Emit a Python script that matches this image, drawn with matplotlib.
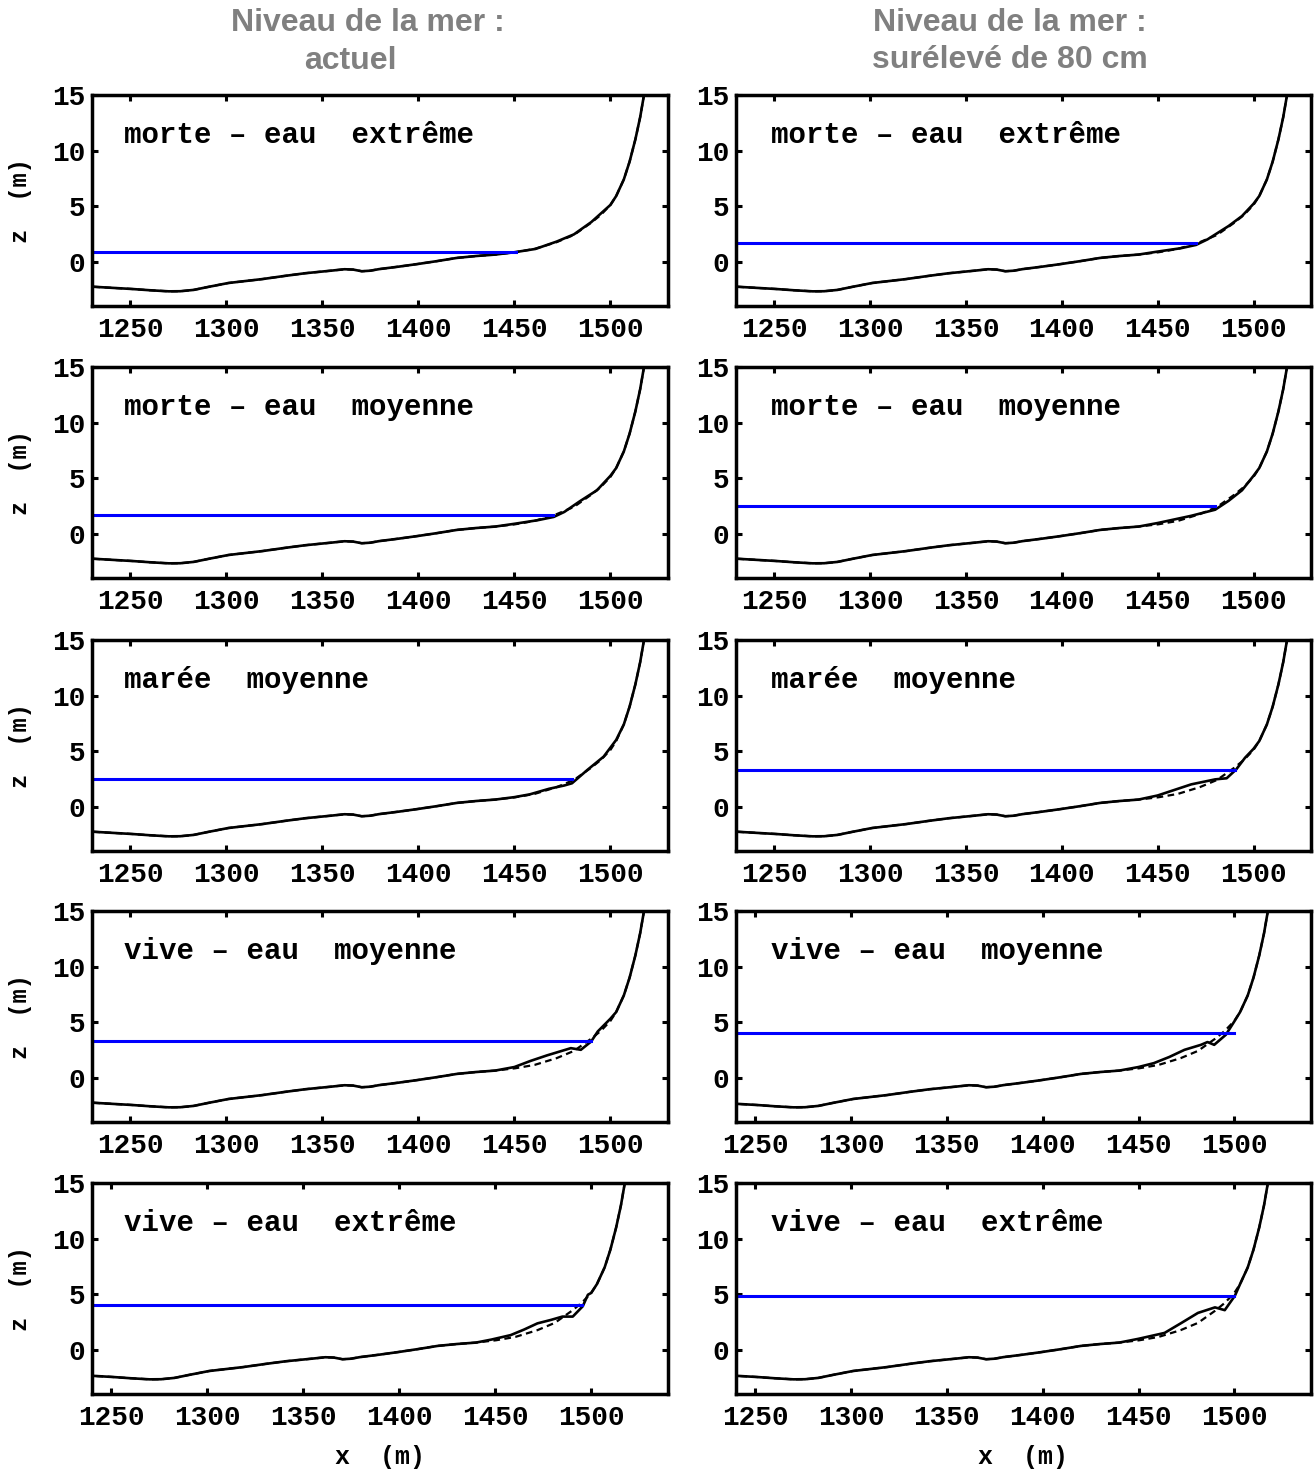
import numpy as np
import matplotlib
matplotlib.use("Agg")
import matplotlib.pyplot as plt

plt.rcParams.update({
    "font.family": ["Liberation Mono", "DejaVu Sans Mono"],
    "font.weight": "bold",
    "axes.linewidth": 2.5,
    "xtick.direction": "in", "ytick.direction": "in",
    "xtick.top": True, "ytick.right": True,
    "xtick.major.size": 4.5, "ytick.major.size": 4.5,
    "xtick.major.width": 2.2, "ytick.major.width": 2.2,
    "xtick.labelsize": 20, "ytick.labelsize": 20,
    "xtick.major.pad": 8, "ytick.major.pad": 5,
})

# initial beach profile (dashed), x (m) / z (m)
BASE_X = [1225, 1230, 1240, 1251, 1260, 1270, 1276, 1283, 1290, 1301, 1310,
          1319, 1330, 1341, 1348, 1355, 1361.5, 1366, 1370.5, 1375, 1379.5,
          1390, 1400, 1410, 1420, 1430, 1440, 1450.5, 1460.5, 1472, 1481, 1490,
          1495, 1500, 1503, 1507, 1510, 1513, 1515.5, 1517.5]
BASE_Z = [-2.2, -2.26, -2.36, -2.47, -2.58, -2.68, -2.67, -2.55, -2.3, -1.93,
          -1.75, -1.57, -1.3, -1.05, -0.93, -0.81, -0.69, -0.72, -0.87, -0.82,
          -0.68, -0.45, -0.21, 0.05, 0.33, 0.5, 0.63, 0.84, 1.14, 1.75, 2.4, 3.5,
          4.2, 5.1, 5.9, 7.4, 9.0, 11.0, 13.0, 15.0]

LABELS = ["morte – eau  extrême", "morte – eau  moyenne", "marée  moyenne",
          "vive – eau  moyenne", "vive – eau  extrême"]
TIDE = [0.9, 1.65, 2.45, 3.25, 4.05]
RISE = 0.8

# final profile near the shore (solid), one list per row
SHORE_X_LEFT = [
    [1450, 1461, 1472, 1481, 1490, 1500],
    [1450, 1462, 1470.5, 1476, 1484, 1493, 1500],
    [1450, 1458, 1468, 1476, 1480, 1488, 1496.5, 1503],
    [1450, 1458.4, 1467, 1479.4, 1484.6, 1490, 1493.4, 1500],
    [1448, 1458, 1465, 1472, 1479, 1485, 1490.4, 1495.6, 1498.3],
]
SHORE_Z_LEFT = [
    [0.84, 1.14, 1.8, 2.45, 3.55, 5.1],
    [0.88, 1.2, 1.5, 1.95, 2.9, 3.9, 5.2],
    [0.85, 1.1, 1.6, 1.9, 2.1, 3.3, 4.5, 6.0],
    [0.95, 1.5, 2.0, 2.65, 2.5, 3.25, 4.15, 5.3],
    [0.9, 1.3, 1.8, 2.36, 2.67, 2.97, 2.97, 3.9, 4.94],
]
SHORE_X_RIGHT = [
    [1450, 1462, 1470, 1476, 1487, 1494, 1500],
    [1450, 1467.5, 1480, 1487, 1494, 1500],
    [1450, 1467.5, 1480, 1486, 1491, 1495.6, 1500],
    [1450, 1458, 1466, 1474, 1482.6, 1486, 1489.5, 1495.6, 1500],
    [1450, 1463.6, 1472.4, 1481, 1489.9, 1495, 1500.3],
]
SHORE_Z_RIGHT = [
    [0.9, 1.2, 1.5, 2.0, 3.2, 4.1, 5.2],
    [0.95, 1.6, 2.15, 2.95, 3.9, 5.2],
    [1.0, 2.0, 2.45, 2.55, 3.35, 4.4, 5.2],
    [0.95, 1.3, 1.85, 2.5, 2.95, 3.2, 2.95, 3.86, 5.06],
    [0.97, 1.5, 2.4, 3.3, 3.8, 3.55, 4.85],
]

# x where the water line stops
WATER_END_LEFT = [1451, 1470, 1480, 1490, 1495]
WATER_END_RIGHT = [1470, 1480, 1490.5, 1500, 1500]

XLIM_LEFT = [(1230, 1530)] * 4 + [(1240, 1540)]
XLIM_RIGHT = [(1230, 1530)] * 3 + [(1240, 1540)] * 2

W, H = 1315, 1475
fig = plt.figure(figsize=(W / 100, H / 100), dpi=100)

col_left = [92, 736]
col_w = [576, 575]
row_top = [95, 367, 640, 911, 1183]
row_h = 211


def solid_profile(sx, sz):
    xs = [x for x in BASE_X if x < sx[0]] + sx + [x for x in BASE_X if x > sx[-1]]
    zs = ([z for x, z in zip(BASE_X, BASE_Z) if x < sx[0]] + sz +
          [z for x, z in zip(BASE_X, BASE_Z) if x > sx[-1]])
    return xs, zs


for c in range(2):
    for r in range(5):
        ax = fig.add_axes([col_left[c] / W, 1 - (row_top[r] + row_h) / H,
                           col_w[c] / W, row_h / H])
        if c == 0:
            sx, sz = SHORE_X_LEFT[r], SHORE_Z_LEFT[r]
            level, xend, xlim = TIDE[r], WATER_END_LEFT[r], XLIM_LEFT[r]
        else:
            sx, sz = SHORE_X_RIGHT[r], SHORE_Z_RIGHT[r]
            level, xend, xlim = TIDE[r] + RISE, WATER_END_RIGHT[r], XLIM_RIGHT[r]
        xs, zs = solid_profile(sx, sz)
        ax.plot(BASE_X, BASE_Z, color="black", lw=1.6, ls=(0, (3, 2)))
        ax.plot(xs, zs, color="black", lw=1.9, solid_joinstyle="round")
        ax.plot([BASE_X[0], xend], [level, level], color="#0000ff", lw=2.2)
        ax.set_xlim(*xlim)
        ax.set_ylim(-4, 15)
        ax.set_xticks([1250, 1300, 1350, 1400, 1450, 1500])
        ax.set_yticks([0, 5, 10, 15])
        ax.text(0.055 if c == 0 else 0.06, 0.81, LABELS[r], transform=ax.transAxes,
                fontsize=21, fontweight="bold", va="center", ha="left")
        if c == 0:
            ax.set_ylabel("z  (m)", fontsize=17, fontweight="bold")
            ax.yaxis.set_label_coords(-0.105, 0.5)
        if r == 4:
            ax.set_xlabel("x  (m)", fontsize=18, fontweight="bold")
            ax.xaxis.set_label_coords(0.5, -0.24)

title_kw = dict(fontsize=23, fontweight="bold", color="#808080",
                family=["Liberation Sans", "DejaVu Sans"], ha="center", va="center")
fig.text(368 / W, 1 - 23 / H, "Niveau de la mer :", **title_kw)
fig.text(350 / W, 1 - 61 / H, "actuel", **title_kw)
fig.text(1010 / W, 1 - 23 / H, "Niveau de la mer :", **title_kw)
fig.text(1010 / W, 1 - 60 / H, "surélevé de 80 cm", **title_kw)

fig.savefig("out.png", dpi=100)
